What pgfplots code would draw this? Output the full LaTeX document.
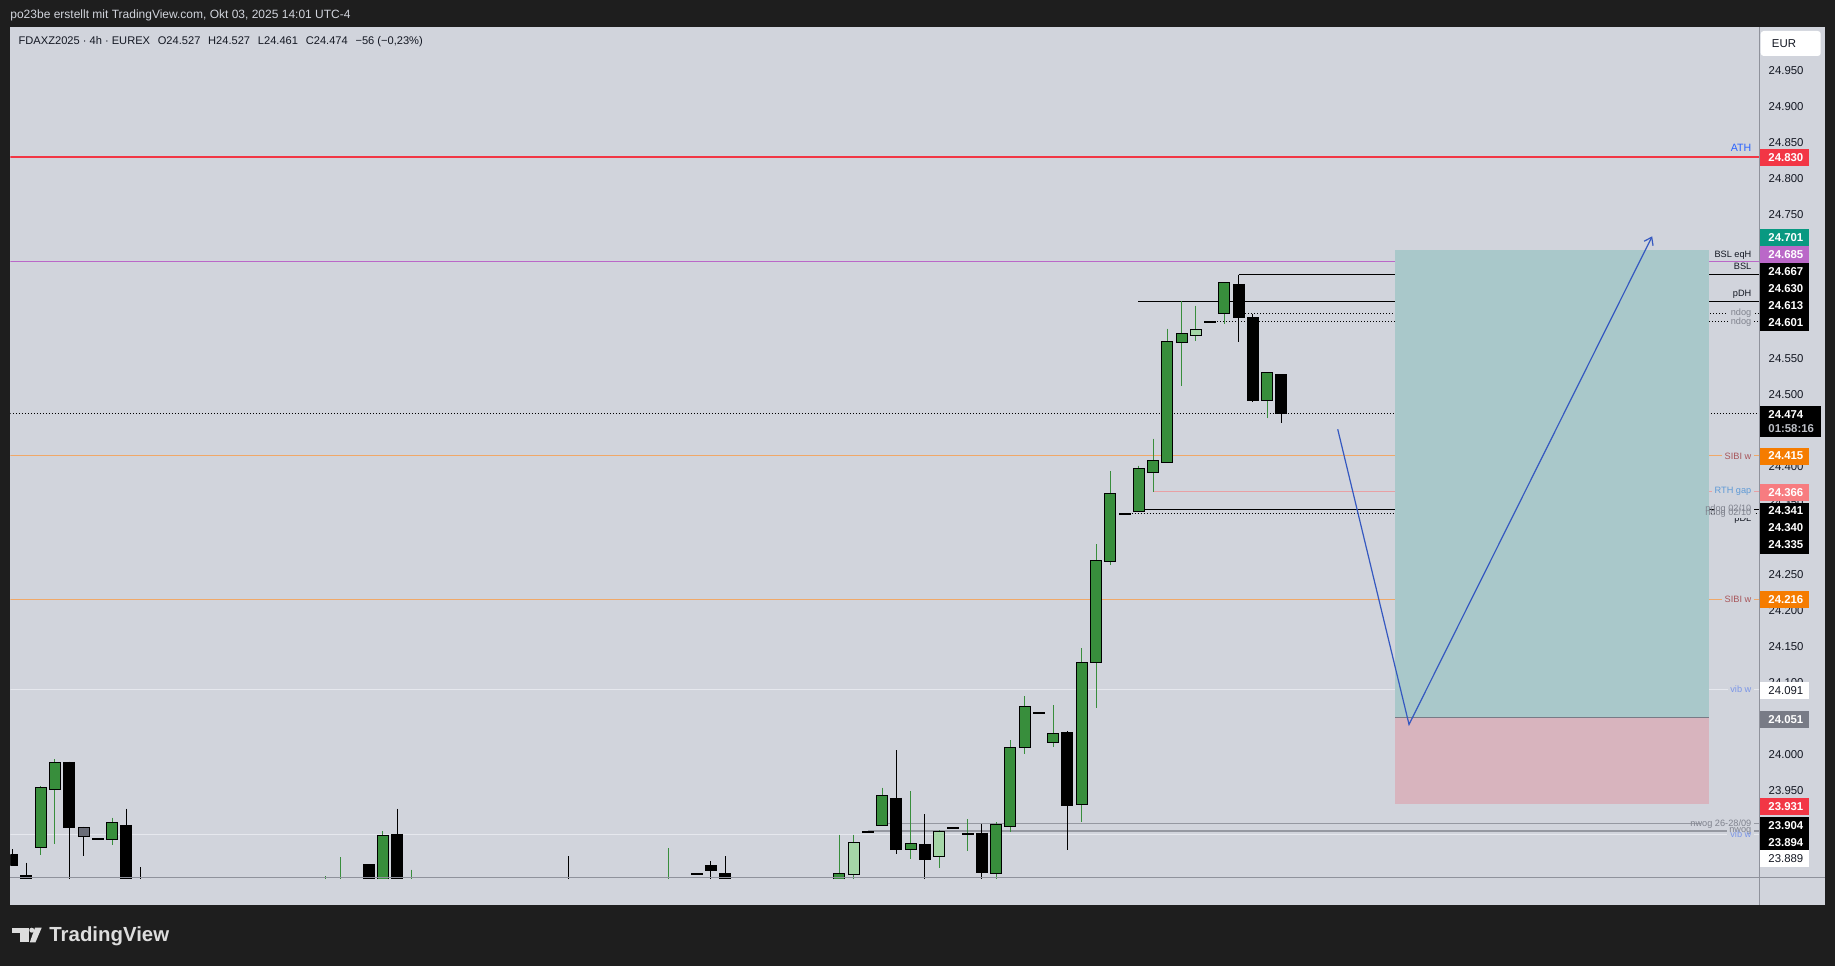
\documentclass[border=0pt]{standalone}
\usepackage{fontspec}
\setmainfont{Liberation Sans}
\usepackage{pgfplots}
\pgfplotsset{compat=1.18}
\usepackage{pgfplotstable}
\usetikzlibrary{arrows.meta}

\definecolor{tvdark}{HTML}{1E1E1E}
\definecolor{tvpanel}{HTML}{D1D4DC}
\definecolor{tvtext}{HTML}{131722}
\definecolor{tvgreen}{HTML}{388E3C}
\definecolor{tvlgreen}{HTML}{A5D6A7}
\definecolor{tvgraybody}{HTML}{6A6D78}
\definecolor{tvred}{HTML}{F23645}
\definecolor{tvteal}{HTML}{089981}
\definecolor{tvpurple}{HTML}{BA68C8}
\definecolor{tvorange}{HTML}{F57C00}
\definecolor{tvsalmon}{HTML}{F77C80}
\definecolor{tvgray}{HTML}{787B86}
\definecolor{tvaxis}{HTML}{8F929C}
\definecolor{orangeline}{HTML}{F0A868}
\definecolor{pinkline}{HTML}{E8A0A4}
\definecolor{vibline}{HTML}{E6E8EE}
\definecolor{nwogline}{HTML}{9598A1}
\definecolor{tpfill}{HTML}{A9C8CA}
\definecolor{slfill}{HTML}{D8B4BE}
\definecolor{arrowblue}{HTML}{3558C0}
\definecolor{athblue}{HTML}{2962FF}
\definecolor{sibitext}{HTML}{A8555A}
\definecolor{rthtext}{HTML}{5F9AD6}
\definecolor{vibtext}{HTML}{7B96E8}
\definecolor{ndogtext}{HTML}{80838E}
\definecolor{logogray}{HTML}{DDDDDD}

\newcommand{\pfont}{\fontsize{5.7pt}{6.8pt}\selectfont}
\newcommand{\pfontb}{\fontsize{5.7pt}{6.8pt}\selectfont\bfseries}
\newcommand{\lfont}{\fontsize{4.6pt}{5.5pt}\selectfont}
\newcommand{\athfont}{\fontsize{5.3pt}{6.3pt}\selectfont}
\newcommand{\hfont}{\fontsize{5.55pt}{6.6pt}\selectfont}
\newcommand{\titlefont}{\fontsize{6pt}{7pt}\selectfont}
\newcommand{\logofont}{\fontsize{10.2pt}{12pt}\selectfont\bfseries}

% 4h candles, k = bar index from the left edge
\pgfplotstableread{
k o h l c
2 23872.3 23956.5 23861.2 23953.3
3 23952.8 23994.0 23876.4 23988.0
7 23882.4 23912.1 23875.0 23904.7
22 23790 23831.5 23780 23800
23 23790 23857.9 23780 23800
26 23815 23894.0 23800 23887.1
28 23790 23839.9 23780 23800
46 23780 23870.0 23760 23800
58 23820 23888.5 23810 23834.3
61 23901.9 23953.8 23901.9 23942.2
63 23869.5 23949.5 23855.1 23875.5
67 23889.4 23910.7 23866.7 23889.4
69 23835.2 23906.5 23825.0 23901.9
70 23900.5 24020.4 23892.6 24008.8
71 24010.2 24081.5 24001.4 24065.7
73 24017.2 24069.0 24011.2 24028.3
75 23931.1 24147.8 23906.9 24126.9
76 24128.3 24292.6 24065.3 24268.6
77 24268.6 24394.0 24263.9 24361.6
79 24338.9 24401.0 24338.9 24396.3
80 24393.1 24438.5 24364.4 24407.4
81 24406.5 24591.3 24406.5 24572.7
82 24572.7 24630.2 24512.6 24583.9
85 24613.0 24656.5 24598.7 24654.7
88 24493.1 24529.7 24468.1 24529.7
}\greentab

\pgfplotstableread{
k o h l c
59 23833.8 23888.5 23820.0 23876.9
65 23858.8 23895.4 23843.1 23892.2
83 24582.5 24623.2 24575.1 24589.4
}\lgreentab

\pgfplotstableread{
k o h l c
5 23897.7 23899.6 23859.8 23887.5
}\graytab

\pgfplotstableread{
k o h l c
0 23860.7 23869.0 23845.0 23847.3
1 23831.5 23849.6 23800.0 23810.0
4 23988.5 23989.9 23815.0 23900.0
6 23882.4 23882.4 23882.4 23882.4
8 23901.0 23924.6 23800.0 23810.0
9 23815.0 23844.0 23790.0 23805.0
25 23846.8 23848.2 23800.0 23815.0
27 23888.5 23924.6 23800.0 23810.0
39 23815.0 23859.3 23790.0 23805.0
48 23834.0 23834.0 23834.0 23834.0
49 23845.4 23852.3 23800.0 23840.3
50 23834.3 23859.3 23790.0 23810.0
60 23892.2 23892.2 23892.2 23892.2
62 23938.5 24006.5 23862.5 23869.5
64 23874.6 23917.6 23820.0 23855.6
66 23897.7 23897.7 23897.7 23897.7
68 23889.9 23903.8 23820.0 23837.5
72 24057.5 24057.5 24057.5 24057.5
74 24029.7 24032.9 23867.6 23930.6
78 24333.8 24333.8 24333.8 24333.8
84 24600.5 24600.5 24600.5 24600.5
86 24652.4 24666.3 24573.7 24608.4
87 24606.1 24612.1 24490.3 24493.1
89 24527.0 24527.0 24461.0 24474.0
}\blacktab

\pgfplotsset{candle/.style={only marks, mark=*, mark size=0pt, mark options={draw=none, fill=none}}}
\newcommand{\wicks}[2]{%
\addplot[candle, error bars/.cd, y dir=minus, y explicit, error mark=none,
  error bar style={draw=#2, line width=0.5pt}]
  table[x=k, y=h, y error minus expr={\thisrow{h}-\thisrow{l}}] {#1};}
\newcommand{\bodies}[2]{%
\addplot[candle, error bars/.cd, y dir=minus, y explicit, error mark=none,
  error bar style={draw=black, line width=6pt}]
  table[x=k, y expr={max(\thisrow{o},\thisrow{c})+1.39}, y error minus expr={abs(\thisrow{o}-\thisrow{c})+2.78}] {#1};
\addplot[candle, error bars/.cd, y dir=minus, y explicit, error mark=none,
  error bar style={draw=#2, line width=5pt}]
  table[x=k, y expr={max(\thisrow{o},\thisrow{c})}, y error minus expr={abs(\thisrow{o}-\thisrow{c})}] {#1};}

\newcommand{\pbox}[4]{%
\fill[#2] (1760,#1-8.5) rectangle (1808.7,#1+8.5);
\node[anchor=west, inner sep=0pt, text=#3, font=\pfontb] at (1768,#1) {#4};}

\begin{document}
\begin{tikzpicture}
\fill[tvdark] (0,0) rectangle (917.5pt,483pt);
\begin{scope}[x=0.5pt, y=-0.5pt, shift={(0pt,483pt)}]
\fill[tvpanel] (10,27.5) rectangle (1825,905);
\end{scope}

\begin{axis}[
  at={(5.25pt,44pt)}, anchor=south west,
  scale only axis, width=874.375pt, height=425.25pt,
  xmin=-0.119, xmax=122.51, ymin=23828.75, ymax=25010,
  axis line style={draw=none},
  xtick=\empty,
  ytick={23850,23900,23950,24000,24050,24100,24150,24200,24250,24300,24350,24400,24450,24500,24550,24600,24650,24700,24750,24800,24850,24900,24950},
  yticklabel pos=right,
  major tick length=0pt,
  scaled y ticks=false,
  /pgf/number format/assume math mode=true,
  yticklabel={\pgfmathprintnumber[fixed,precision=0,1000 sep={.},assume math mode=true]{\tick}},
  yticklabel style={anchor=west, inner sep=0pt, xshift=4.5pt, font=\pfont, text=tvtext},
  clip=true,
]
% levels
\addplot[tvred, line width=0.7pt] coordinates {(-1,24830) (124,24830)};
\addplot[tvpurple, line width=0.9pt] coordinates {(-1,24685) (124,24685)};
\addplot[black, line width=0.5pt] coordinates {(86,24667) (124,24667)};
\addplot[black, line width=0.5pt] coordinates {(78.97,24630) (124,24630)};
\addplot[black, line width=0.5pt, dash pattern=on 0.5pt off 1pt] coordinates {(86.45,24613) (124,24613)};
\addplot[black, line width=0.5pt, dash pattern=on 0.5pt off 1pt] coordinates {(84.5,24601) (124,24601)};
\addplot[black, line width=0.5pt, dash pattern=on 0.5pt off 1pt] coordinates {(-1,24474) (124,24474)};
\addplot[orangeline, line width=0.5pt] coordinates {(-1,24415) (124,24415)};
\addplot[pinkline, line width=0.5pt] coordinates {(80,24366) (124,24366)};
\addplot[black, line width=0.5pt] coordinates {(78.6,24340) (124,24340)};
\addplot[black, line width=0.5pt, dash pattern=on 0.5pt off 1pt] coordinates {(79,24341) (124,24341)};
\addplot[black, line width=0.5pt, dash pattern=on 0.5pt off 1pt] coordinates {(78.5,24335) (124,24335)};
\addplot[orangeline, line width=0.5pt] coordinates {(-1,24216) (124,24216)};
\addplot[vibline, line width=0.6pt] coordinates {(-1,24091) (124,24091)};
\addplot[nwogline, line width=0.6pt] coordinates {(61,23904) (124,23904)};
\addplot[nwogline, line width=0.6pt] coordinates {(60,23894) (124,23894)};
\addplot[vibline, line width=0.6pt] coordinates {(-1,23889) (124,23889)};
% long position
\addplot[draw=none, fill=tpfill] coordinates {(96.97,24051) (118.96,24051) (118.96,24701) (96.97,24701)} -- cycle;
\addplot[draw=none, fill=slfill] coordinates {(96.97,23931) (118.96,23931) (118.96,24051) (96.97,24051)} -- cycle;
\addplot[tvgray, line width=0.5pt] coordinates {(96.97,24051) (118.96,24051)};
\addplot[arrowblue, line width=0.6pt, -{Straight Barb[length=3.5pt,width=5pt]}]
  coordinates {(92.95,24452) (97.95,24042) (115,24720)};
% candles
\wicks{\greentab}{tvgreen}
\wicks{\lgreentab}{tvgreen}
\wicks{\graytab}{black}
\wicks{\blacktab}{black}
\bodies{\greentab}{tvgreen}
\bodies{\lgreentab}{tvlgreen}
\bodies{\graytab}{tvgraybody}
\bodies{\blacktab}{black}
\end{axis}

\begin{scope}[x=0.5pt, y=-0.5pt, shift={(0pt,483pt)}]
% separators
\draw[tvaxis, line width=0.5pt] (1759.3,27.5) -- (1759.3,905);
\draw[tvaxis, line width=0.5pt] (10,877.8) -- (1825,877.8);
% labels above lines
\node[anchor=base east, inner sep=0pt, text=athblue, font=\athfont] at (1751.7,152) {ATH};
\node[anchor=base east, inner sep=0pt, text=tvtext, font=\lfont] at (1751.7,257.5) {BSL eqH};
\node[anchor=base east, inner sep=0pt, text=tvtext, font=\lfont] at (1751.7,269.5) {BSL};
\node[anchor=base east, inner sep=0pt, text=tvtext, font=\lfont] at (1751.7,296.5) {pDH};
\node[anchor=north east, inner sep=0pt, text=tvtext, font=\lfont] at (1751.7,515) {pDL};
% labels on lines (gap in line)
\foreach \yy/\tt in {313.3/ndog, 322/ndog, 455.9/SIBI w, 491.2/RTH gap, 509.2/ndog 02/10, 513.5/ndog 02/10, 599.2/SIBI w, 689.2/vib w, 823.8/nwog 26-28/09, 831/nwog, 834.6/vib w}
  \node[anchor=east, fill=tvpanel, inner xsep=1.3pt, inner ysep=0.3pt, text=tvpanel, font=\lfont] at (1754.3,\yy) {\tt};
\node[anchor=east, inner sep=0pt, text=ndogtext, font=\lfont] at (1751.7,313.3) {ndog};
\node[anchor=east, inner sep=0pt, text=ndogtext, font=\lfont] at (1751.7,322) {ndog};
\node[anchor=east, inner sep=0pt, text=sibitext, font=\lfont] at (1751.7,455.9) {SIBI w};
\node[anchor=east, inner sep=0pt, text=rthtext, font=\lfont] at (1751.7,491.2) {RTH gap};
\node[anchor=east, inner sep=0pt, text=ndogtext, font=\lfont] at (1751.7,509.2) {ndog 02/10};
\node[anchor=east, inner sep=0pt, text=ndogtext, font=\lfont] at (1751.7,513.5) {ndog 02/10};
\node[anchor=east, inner sep=0pt, text=sibitext, font=\lfont] at (1751.7,599.2) {SIBI w};
\node[anchor=east, inner sep=0pt, text=vibtext, font=\lfont] at (1751.7,689.2) {vib w};
\node[anchor=east, inner sep=0pt, text=ndogtext, font=\lfont] at (1751.7,823.8) {nwog 26-28/09};
\node[anchor=east, inner sep=0pt, text=ndogtext, font=\lfont] at (1751.7,831) {nwog};
\node[anchor=east, inner sep=0pt, text=vibtext, font=\lfont] at (1751.7,834.6) {vib w};
% price scale labels
\fill[white, rounded corners=1.5pt] (1760.7,31) rectangle (1820.7,56);
\node[anchor=west, inner sep=0pt, text=tvtext, font=\pfont] at (1771.5,43.5) {EUR};
\pbox{157.1}{tvred}{white}{24.830}
\pbox{237.3}{tvteal}{white}{24.701}
\pbox{254.3}{tvpurple}{white}{24.685}
\pbox{271.3}{black}{white}{24.667}
\pbox{288.3}{black}{white}{24.630}
\pbox{305.3}{black}{white}{24.613}
\pbox{322.3}{black}{white}{24.601}
\fill[black] (1760,406) rectangle (1820.7,436.7);
\node[anchor=west, inner sep=0pt, text=white, font=\pfontb] at (1768,414.5) {24.474};
\node[anchor=west, inner sep=0pt, text=tvpanel!90!black, font=\pfontb] at (1768,428.5) {01:58:16};
\pbox{456}{tvorange}{white}{24.415}
\pbox{492.3}{tvsalmon}{white}{24.366}
\pbox{511}{black}{white}{24.341}
\pbox{528}{black}{white}{24.340}
\pbox{545}{black}{white}{24.335}
\pbox{599.2}{tvorange}{white}{24.216}
\pbox{690.7}{white}{tvtext}{\mdseries 24.091}
\pbox{719.3}{tvgray}{white}{24.051}
\pbox{806.7}{tvred}{white}{23.931}
\pbox{825.7}{black}{white}{23.904}
\pbox{842.7}{black}{white}{23.894}
\pbox{858.7}{white}{tvtext}{\mdseries 23.889}
% header texts
\node[anchor=west, inner sep=0pt, text=tvpanel, font=\titlefont] at (10,15) {po23be erstellt mit TradingView.com, Okt 03, 2025 14:01 UTC-4};
\node[anchor=west, inner sep=0pt, text=tvtext, font=\hfont] at (18.3,42) {FDAXZ2025 · 4h · EUREX\hspace{0.7em}O24.527\hspace{0.7em}H24.527\hspace{0.7em}L24.461\hspace{0.7em}C24.474\hspace{0.7em}−56 (−0,23\%)};
% logo
\fill[logogray] (12.3,927.7) rectangle (29,932.7);
\fill[logogray] (20,932.7) rectangle (29,942.3);
\fill[logogray] (31.8,930.2) circle (2.5);
\fill[logogray] (35,927.7) -- (41.7,927.7) -- (35.5,942.3) -- (29.8,942.3) -- cycle;
\node[anchor=base west, inner sep=0pt, text=logogray, font=\logofont] at (49,941.5) {TradingView};
\end{scope}
\end{tikzpicture}
\end{document}
